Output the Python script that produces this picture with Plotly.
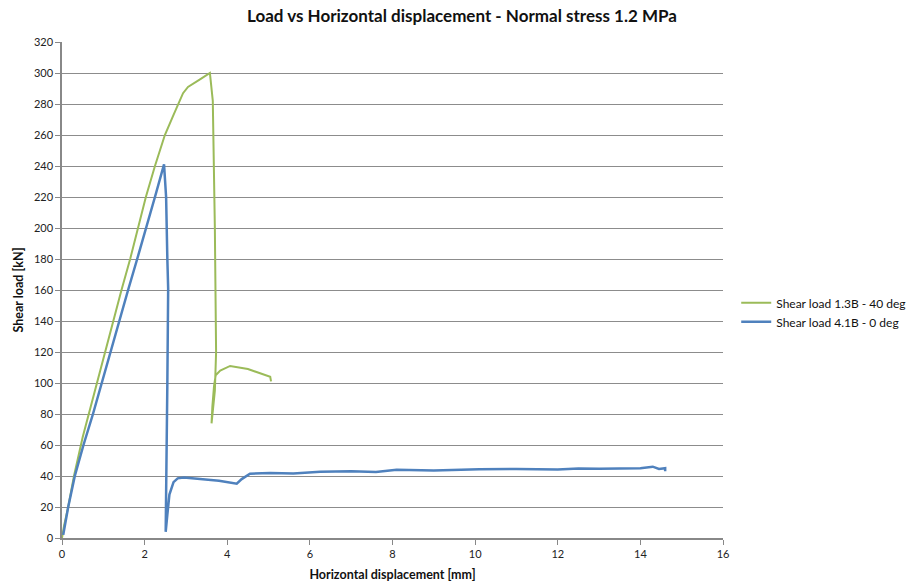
import plotly.graph_objects as go

# Series: Shear load 1.3B - 40 deg
green_x = [0, 0.05, 0.15, 0.29, 0.5, 0.84, 1.04, 1.24, 1.44, 1.65, 1.84, 2.03, 2.25, 2.49, 2.7, 2.86, 2.93,
           3.05, 3.18, 3.35, 3.58, 3.65, 3.70, 3.72, 3.73, 3.70, 3.65, 3.62, 3.64, 3.68, 3.72,
           3.83, 4.07, 4.5, 5.04, 5.06]
green_y = [0, 8, 20, 40, 65, 100, 120, 140, 160, 180, 200, 220, 240, 260, 273, 282, 287,
           291, 293, 296, 300, 282, 200, 150, 120, 95, 82, 74, 85, 98, 105,
           108, 111, 109, 104, 101]

# Series: Shear load 4.1B - 0 deg
blue_x = [0.03, 0.08, 0.15, 0.31, 0.52, 0.75, 0.96, 1.17, 1.39, 1.6, 1.82, 2.04, 2.25, 2.47, 2.52, 2.55, 2.57, 2.55,
          2.53, 2.51, 2.55, 2.6, 2.7, 2.8, 2.95, 3.3, 3.8, 4.23, 4.35, 4.55, 5.04, 5.6, 6.25,
          7.0, 7.6, 8.1, 9.0, 10.1, 11, 12, 12.5, 13, 13.6, 14, 14.3, 14.45, 14.6, 14.6]
blue_y = [2, 10, 20, 40, 60, 80, 100, 120, 140, 160, 180, 200, 220, 241, 220, 180, 161, 100,
          40, 4, 15, 28, 36, 38.5, 39, 38, 37, 35, 38, 41.5, 42, 41.6, 42.8,
          43, 42.6, 44, 43.6, 44.3, 44.5, 44.2, 44.8, 44.6, 45, 45, 46, 44.5, 45, 43]

title_text = "Load vs Horizontal displacement - Normal stress 1.2 MPa"
x_title = "Horizontal displacement [mm]"
y_title = "Shear load [kN]"
names = ["Shear load 1.3B - 40 deg", "Shear load 4.1B - 0 deg"]

fig = go.Figure()
fig.add_trace(go.Scatter(x=green_x, y=green_y, mode="lines", name=names[0],
                         line=dict(color="#9BBB59", width=2)))
fig.add_trace(go.Scatter(x=blue_x, y=blue_y, mode="lines", name=names[1],
                         line=dict(color="#4F81BD", width=2.5)))

font_family = "Lato, Open Sans, sans-serif"
fig.update_layout(
    width=916, height=582,
    margin=dict(l=62, r=193, t=42, b=44, autoexpand=False),
    paper_bgcolor="white", plot_bgcolor="white",
    font=dict(family=font_family, size=11, color="#222"),
    title=dict(text="<b>" + title_text + "</b>", x=462 / 916, xanchor="center",
               y=1 - 16 / 582, yanchor="middle", font=dict(size=17, color="#111")),
    legend=dict(x=1.02, y=0.455, xanchor="left", yanchor="middle",
                font=dict(size=12, color="#111"), bgcolor="rgba(0,0,0,0)",
                tracegroupgap=4, itemwidth=30),
    showlegend=True,
)
fig.update_xaxes(range=[0, 16], dtick=2, showgrid=False, showline=True, linecolor="#888",
                 linewidth=1.5, ticks="outside", tickcolor="#888", ticklen=5, zeroline=False,
                 automargin=False,
                 title=dict(text="<b>" + x_title + "</b>", font=dict(size=12.5, color="#111"), standoff=14),
                 tickfont=dict(size=11))
fig.update_yaxes(range=[0, 320], dtick=20, showgrid=True, gridcolor="#8C8C8C", gridwidth=1,
                 showline=True, linecolor="#888", linewidth=1.5, ticks="outside", tickcolor="#888",
                 ticklen=5, zeroline=False, automargin=False,
                 title=dict(text="<b>" + y_title + "</b>", font=dict(size=12.5, color="#111"), standoff=8),
                 tickfont=dict(size=11))

fig.write_html("out.html")
